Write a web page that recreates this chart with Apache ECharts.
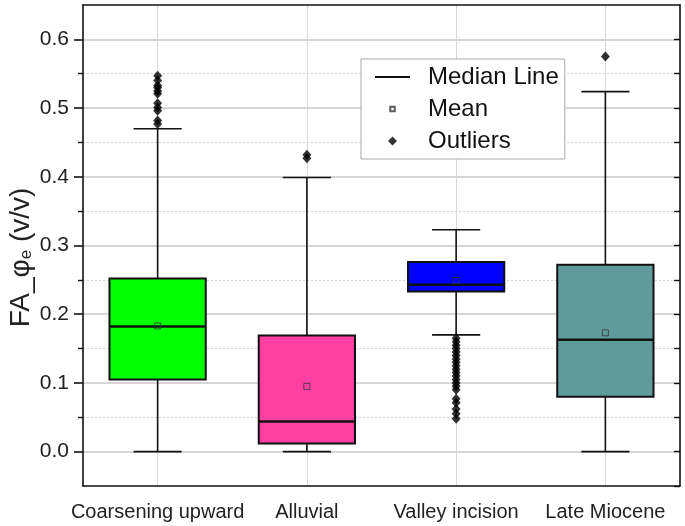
<!DOCTYPE html>
<html>
<head>
<meta charset="utf-8">
<script src="https://cdn.jsdelivr.net/npm/echarts@6/dist/echarts.min.js"></script>
<style>
  html, body { margin: 0; padding: 0; background: #fff; }
  #chart { width: 685px; height: 526px; }
</style>
</head>
<body>
<div id="chart"></div>
<script>
// facies groups on the x axis
var categories = ['Coarsening upward', 'Alluvial', 'Valley incision', 'Late Miocene'];
// box statistics
var whiskerLow = [0.000, 0.000, 0.170, 0.000];
var q1 = [0.105, 0.012, 0.233, 0.080];
var median = [0.182, 0.044, 0.243, 0.163];
var q3 = [0.252, 0.169, 0.276, 0.272];
var whiskerHigh = [0.470, 0.399, 0.323, 0.524];
var means = [0.183, 0.095, 0.249, 0.173];
// outliers per group
var outliers = [
  [0.477, 0.482, 0.496, 0.501, 0.507, 0.521, 0.525, 0.530, 0.533, 0.540, 0.547],
  [0.427, 0.432],
  [0.165, 0.160, 0.155, 0.150, 0.145, 0.140, 0.135, 0.130, 0.125, 0.120, 0.115, 0.110, 0.105, 0.100, 0.095, 0.090, 0.077, 0.071, 0.062, 0.055, 0.048],
  [0.575]
];
var majorTicks = [0, 0.1, 0.2, 0.3, 0.4, 0.5, 0.6];
var minorTicks = [0.05, 0.15, 0.25, 0.35, 0.45, 0.55];
var allTicks = [-0.05, 0, 0.05, 0.1, 0.15, 0.2, 0.25, 0.3, 0.35, 0.4, 0.45, 0.5, 0.55, 0.6];

var boxColors = ['#00ff00', '#ff40a2', '#0000ff', '#5f9b9b'];
var FONT = '"Liberation Sans", Arial, sans-serif';

var boxData = [];
for (var i = 0; i < categories.length; i++) {
  boxData.push([i, whiskerLow[i], q1[i], median[i], q3[i], whiskerHigh[i]]);
}
var meanData = means.map(function (m, i) { return [i, m]; });
var outlierData = [];
outliers.forEach(function (list, i) {
  list.forEach(function (v) { outlierData.push([i, v]); });
});

function renderBox(params, api) {
  var i = api.value(0);
  var bw = api.size([1, 0])[0] * 0.645;
  var pLow = api.coord([i, api.value(1)]);
  var pQ1 = api.coord([i, api.value(2)]);
  var pMed = api.coord([i, api.value(3)]);
  var pQ3 = api.coord([i, api.value(4)]);
  var pHigh = api.coord([i, api.value(5)]);
  var x = pMed[0];
  var ln = { stroke: '#111', lineWidth: 1.6 };
  return {
    type: 'group',
    children: [
      { type: 'line', shape: { x1: x, y1: pLow[1], x2: x, y2: pHigh[1] }, style: ln },
      { type: 'line', shape: { x1: x - bw / 4, y1: pLow[1], x2: x + bw / 4, y2: pLow[1] }, style: ln },
      { type: 'line', shape: { x1: x - bw / 4, y1: pHigh[1], x2: x + bw / 4, y2: pHigh[1] }, style: ln },
      { type: 'rect', shape: { x: x - bw / 2, y: pQ3[1], width: bw, height: pQ1[1] - pQ3[1] },
        style: { fill: boxColors[i], stroke: '#111', lineWidth: 2 } },
      { type: 'line', shape: { x1: x - bw / 2, y1: pMed[1], x2: x + bw / 2, y2: pMed[1] },
        style: { stroke: '#111', lineWidth: 2.5 } }
    ]
  };
}

var chart = echarts.init(document.getElementById('chart'));
chart.setOption({
  animation: false,
  backgroundColor: '#fff',
  textStyle: { fontFamily: FONT },
  grid: { left: 83, right: 5, top: 5, bottom: 40, containLabel: false, outerBoundsMode: 'none' },
  legend: {
    orient: 'vertical',
    left: 361,
    top: 59,
    selectedMode: false,
    itemWidth: 35,
    itemHeight: 9,
    itemGap: 8,
    padding: [6, 6, 6, 14],
    borderColor: '#aaa',
    borderWidth: 1,
    backgroundColor: '#fff',
    textStyle: { fontSize: 24, color: '#111', fontFamily: FONT, padding: [0, 0, 0, 13] },
    data: [
      { name: 'Median Line', icon: 'path://M0,0L35,0L35,2L0,2Z', itemStyle: { color: '#111' } },
      { name: 'Mean', icon: 'path://M0,0M12,12M3,3L9,3L9,9L3,9Z' },
      { name: 'Outliers', icon: 'path://M5,0L10,5L5,10L0,5Z' }
    ]
  },
  xAxis: [{
    type: 'category',
    data: categories,
    position: 'bottom',
    boundaryGap: true,
    axisLine: { onZero: false, lineStyle: { color: '#111', width: 1.6 } },
    axisTick: { alignWithLabel: true, length: 8, lineStyle: { color: '#111', width: 1.6 } },
    axisLabel: { fontSize: 20, color: '#222', margin: 16, interval: 0 },
    splitLine: { show: false }
  }, {
    type: 'value',
    min: 0,
    max: 4,
    position: 'top',
    axisLine: { show: true, onZero: false, lineStyle: { color: '#111', width: 1.6 } },
    axisTick: { show: false, customValues: [0.5, 1.5, 2.5, 3.5] },
    axisLabel: { show: false },
    splitLine: { show: true, lineStyle: { color: '#d9d9d9', width: 1 } }
  }],
  yAxis: [{
    type: 'value',
    min: -0.05,
    max: 0.65,
    position: 'left',
    name: '{a|FA_φ}{b|e}{a| (v/v)}',
    nameLocation: 'middle',
    nameGap: 48,
    nameMoveOverlap: false,
    nameTextStyle: {
      padding: [0, 24, 0, 0],
      rich: {
        a: { fontSize: 28, color: '#222', fontFamily: FONT },
        b: { fontSize: 17, color: '#222', fontFamily: FONT, padding: [11, 0, 0, 0] }
      }
    },
    axisLine: { show: true, onZero: false, lineStyle: { color: '#111', width: 1.6 } },
    axisTick: { show: true, length: 9, customValues: majorTicks, lineStyle: { color: '#111', width: 1.6 } },
    axisLabel: { customValues: majorTicks, fontSize: 21, color: '#222', margin: 14,
      formatter: function (v) { return v.toFixed(1); } },
    splitLine: { show: true, lineStyle: { color: '#c8c8c8', width: 1.5 } }
  }, {
    type: 'value',
    min: -0.05,
    max: 0.65,
    position: 'left',
    axisLine: { show: false, onZero: false },
    axisTick: { show: true, length: 5, customValues: minorTicks, lineStyle: { color: '#111', width: 1.4 } },
    axisLabel: { show: false },
    splitLine: { show: true, lineStyle: { color: '#d4d4d4', width: 1, type: [2, 2] } }
  }, {
    type: 'value',
    min: -0.05,
    max: 0.65,
    position: 'right',
    axisLine: { show: true, onZero: false, lineStyle: { color: '#111', width: 1.6 } },
    axisTick: { show: true, inside: true, length: 6, customValues: allTicks, lineStyle: { color: '#111', width: 1.4 } },
    axisLabel: { show: false },
    splitLine: { show: false }
  }],
  series: [{
    type: 'custom',
    name: 'boxes',
    xAxisIndex: 0,
    yAxisIndex: 0,
    renderItem: renderBox,
    encode: { x: 0, y: [1, 2, 3, 4, 5] },
    data: boxData,
    z: 2
  }, {
    type: 'line',
    name: 'Median Line',
    data: [],
    symbol: 'none',
    lineStyle: { color: '#111', width: 2 },
    itemStyle: { color: '#111' }
  }, {
    type: 'scatter',
    name: 'Mean',
    xAxisIndex: 0,
    yAxisIndex: 0,
    symbol: 'rect',
    symbolSize: 6,
    itemStyle: { color: 'rgba(0,0,0,0)', borderColor: '#333', borderWidth: 1 },
    data: meanData,
    z: 4
  }, {
    type: 'scatter',
    name: 'Outliers',
    xAxisIndex: 0,
    yAxisIndex: 0,
    symbol: 'diamond',
    symbolSize: [9, 10],
    itemStyle: { color: '#000' },
    data: outlierData,
    z: 4
  }]
});
</script>
</body>
</html>
